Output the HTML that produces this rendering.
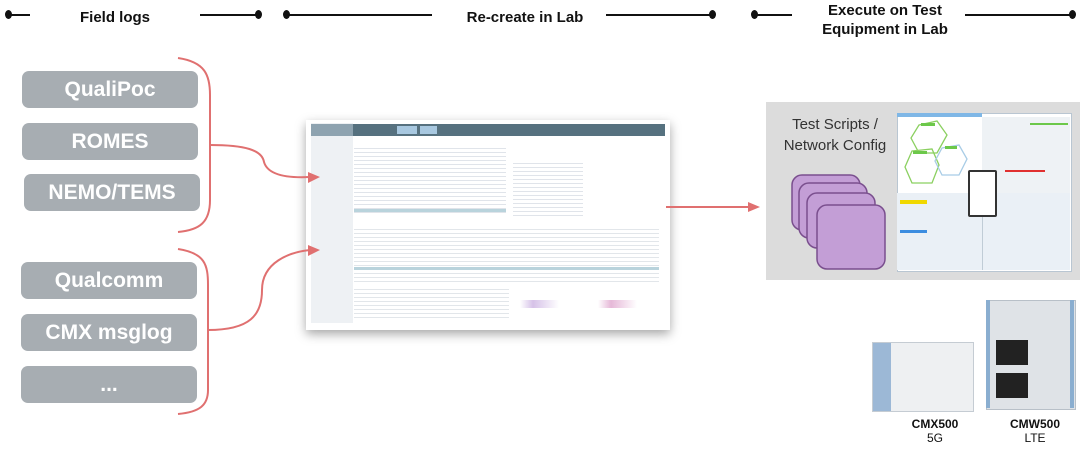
<!DOCTYPE html>
<html><head><meta charset="utf-8"><style>
body{margin:0;width:1080px;height:452px;background:#fff;position:relative;overflow:hidden;font-family:"Liberation Sans",sans-serif}
.a{position:absolute}
.box{position:absolute;background:#a7adb2;border-radius:7px;color:#fff;font-weight:bold;font-size:21px;text-align:center;display:flex;align-items:center;justify-content:center}
.h{position:absolute;font-weight:bold;font-size:15px;color:#111;text-align:center}
.ln{position:absolute;height:2px;background:#111;top:14px}
.dt{position:absolute;width:7px;height:9px;border-radius:50%;background:#111;top:10px}
</style></head><body>
<!-- header -->
<div class="dt" style="left:5px"></div><div class="ln" style="left:8px;width:22px"></div>
<div class="h" style="left:60px;width:110px;top:9px">Field logs</div>
<div class="ln" style="left:200px;width:58px"></div><div class="dt" style="left:255px"></div>
<div class="dt" style="left:283px"></div><div class="ln" style="left:286px;width:146px"></div>
<div class="h" style="left:440px;width:170px;top:9px">Re-create in Lab</div>
<div class="ln" style="left:606px;width:106px"></div><div class="dt" style="left:709px"></div>
<div class="dt" style="left:751px"></div><div class="ln" style="left:754px;width:38px"></div>
<div class="h" style="left:800px;width:170px;top:1px;line-height:19px">Execute on Test<br>Equipment in Lab</div>
<div class="ln" style="left:965px;width:106px"></div><div class="dt" style="left:1069px"></div>

<!-- boxes -->
<div class="box" style="left:22px;top:71px;width:176px;height:37px">QualiPoc</div>
<div class="box" style="left:22px;top:123px;width:176px;height:37px">ROMES</div>
<div class="box" style="left:24px;top:174px;width:176px;height:37px">NEMO/TEMS</div>
<div class="box" style="left:21px;top:262px;width:176px;height:37px">Qualcomm</div>
<div class="box" style="left:21px;top:314px;width:176px;height:37px">CMX msglog</div>
<div class="box" style="left:21px;top:366px;width:176px;height:37px">...</div>

<!-- center screenshot -->
<div class="a" style="left:306px;top:120px;width:364px;height:210px;box-shadow:0 4px 10px rgba(0,0,0,.35);background:#fff"></div>
<div class="a" style="left:311px;top:123px;width:42px;height:200px;background:#eef1f4"></div>
<div class="a" style="left:311px;top:124px;width:42px;height:12px;background:#8ea3b0"></div>
<div class="a" style="left:353px;top:124px;width:312px;height:12px;background:#56717f"></div>
<div class="a" style="left:397px;top:126px;width:20px;height:8px;background:#a8c8e0"></div>
<div class="a" style="left:420px;top:126px;width:17px;height:8px;background:#a8c8e0"></div>
<div class="a" style="left:354px;top:145px;width:152px;height:70px;background:repeating-linear-gradient(#fff 0 3px,#e0e4ea 3px 4px)"></div>
<div class="a" style="left:354px;top:209px;width:152px;height:3px;background:#b9d3dc"></div>
<div class="a" style="left:513px;top:160px;width:70px;height:58px;background:repeating-linear-gradient(#fff 0 3px,#e0e4ea 3px 4px)"></div>
<div class="a" style="left:354px;top:226px;width:305px;height:58px;background:repeating-linear-gradient(#fff 0 3px,#e2e6ea 3px 4px)"></div>
<div class="a" style="left:354px;top:267px;width:305px;height:3px;background:#b9d3dc"></div>
<div class="a" style="left:354px;top:286px;width:155px;height:35px;background:repeating-linear-gradient(#fff 0 3px,#e2e6ea 3px 4px)"></div>
<div class="a" style="left:520px;top:300px;width:130px;height:8px;background:linear-gradient(90deg,#fff 0,#d6c2e8 10%,#fff 30%,#fff 60%,#e6b8d8 70%,#fff 90%)"></div>

<svg class="a" style="left:0;top:0;z-index:5" width="1080" height="452">
<g fill="none" stroke="#e07070" stroke-width="2">
<path d="M178 58 C205 62 210 75 210 95 L210 200 C210 222 200 230 178 232"/>
<path d="M210 145 C245 145 262 150 264 162 C268 176 290 178 310 177"/>
<path d="M178 249 C205 253 208 265 208 285 L208 390 C208 405 200 412 178 414"/>
<path d="M208 330 C250 330 262 315 262 290 C262 262 290 252 310 250"/>
<path d="M666 207 L750 207"/>
</g>
<g fill="#e07070"><path d="M320 177 L308 172 L308 183Z"/><path d="M320 250 L308 245 L308 256Z"/><path d="M760 207 L748 202 L748 212Z"/></g>
</svg>

<!-- right panel -->
<div class="a" style="left:766px;top:102px;width:314px;height:178px;background:#dcdcdc"></div>
<div class="a" style="left:770px;top:114px;width:130px;text-align:center;font-size:15px;line-height:21px;color:#333">Test Scripts /<br>Network Config</div>
<svg class="a" style="left:780px;top:170px" width="110" height="105">
<g fill="#c39ed6" stroke="#7a4f8e" stroke-width="1.5">
<rect x="12" y="5" width="68" height="55" rx="10"/>
<rect x="19" y="13" width="68" height="55" rx="10"/>
<rect x="27" y="23" width="68" height="55" rx="10"/>
<rect x="37" y="35" width="68" height="64" rx="10"/>
</g></svg>
<div class="a" style="left:897px;top:113px;width:173px;height:157px;background:#fff;border:1px solid #b9c6d2"></div>
<div class="a" style="left:897px;top:113px;width:85px;height:4px;background:#7fb7e6"></div>
<div class="a" style="left:982px;top:117px;width:88px;height:81px;background:#eef2f5"></div>
<div class="a" style="left:897px;top:193px;width:173px;height:77px;background:#eaf0f6"></div>
<div class="a" style="left:982px;top:193px;width:1px;height:77px;background:#c0ccd6"></div>
<div class="a" style="left:968px;top:170px;width:25px;height:43px;background:#fff;border:2px solid #333;border-radius:2px"></div>
<div class="a" style="left:900px;top:200px;width:27px;height:4px;background:#f0d800"></div>
<div class="a" style="left:900px;top:230px;width:27px;height:3px;background:#3c8de0"></div>
<svg class="a" style="left:897px;top:113px" width="90" height="80"><g fill="none" stroke="#8bd060" stroke-width="1.3">
<path d="M22 12 L40 8 L50 22 L40 40 L22 40 L14 25Z"/><path d="M15 38 L35 36 L42 52 L35 70 L15 70 L8 54Z"/></g>
<path d="M45 35 L62 32 L70 46 L62 62 L45 62 L38 48Z" fill="none" stroke="#a8cce6" stroke-width="1.3"/>
<g fill="#6cc84a"><rect x="24" y="10" width="14" height="3"/><rect x="16" y="38" width="14" height="3"/><rect x="48" y="33" width="12" height="3"/></g></svg>
<div class="a" style="left:1030px;top:123px;width:38px;height:2px;background:#6cc84a"></div>
<div class="a" style="left:1005px;top:170px;width:40px;height:2px;background:#e03030"></div>

<!-- equipment -->
<div class="a" style="left:872px;top:342px;width:100px;height:68px;background:linear-gradient(90deg,#9cb8d6 0 18%,#eef0f2 18% 100%);border:1px solid #c5ccd3"></div>
<div class="a" style="left:986px;top:300px;width:88px;height:108px;background:#dfe3e7;border:1px solid #b8c0c8"></div>
<div class="a" style="left:996px;top:340px;width:32px;height:25px;background:#222"></div>
<div class="a" style="left:996px;top:373px;width:32px;height:25px;background:#222"></div>
<div class="a" style="left:986px;top:300px;width:4px;height:108px;background:#8aaed0"></div>
<div class="a" style="left:1070px;top:300px;width:4px;height:108px;background:#8aaed0"></div>
<div class="a" style="left:895px;top:417px;width:80px;text-align:center;font-size:12px;line-height:14px;color:#111"><b>CMX500</b><br>5G</div>
<div class="a" style="left:995px;top:417px;width:80px;text-align:center;font-size:12px;line-height:14px;color:#111"><b>CMW500</b><br>LTE</div>
</body></html>
